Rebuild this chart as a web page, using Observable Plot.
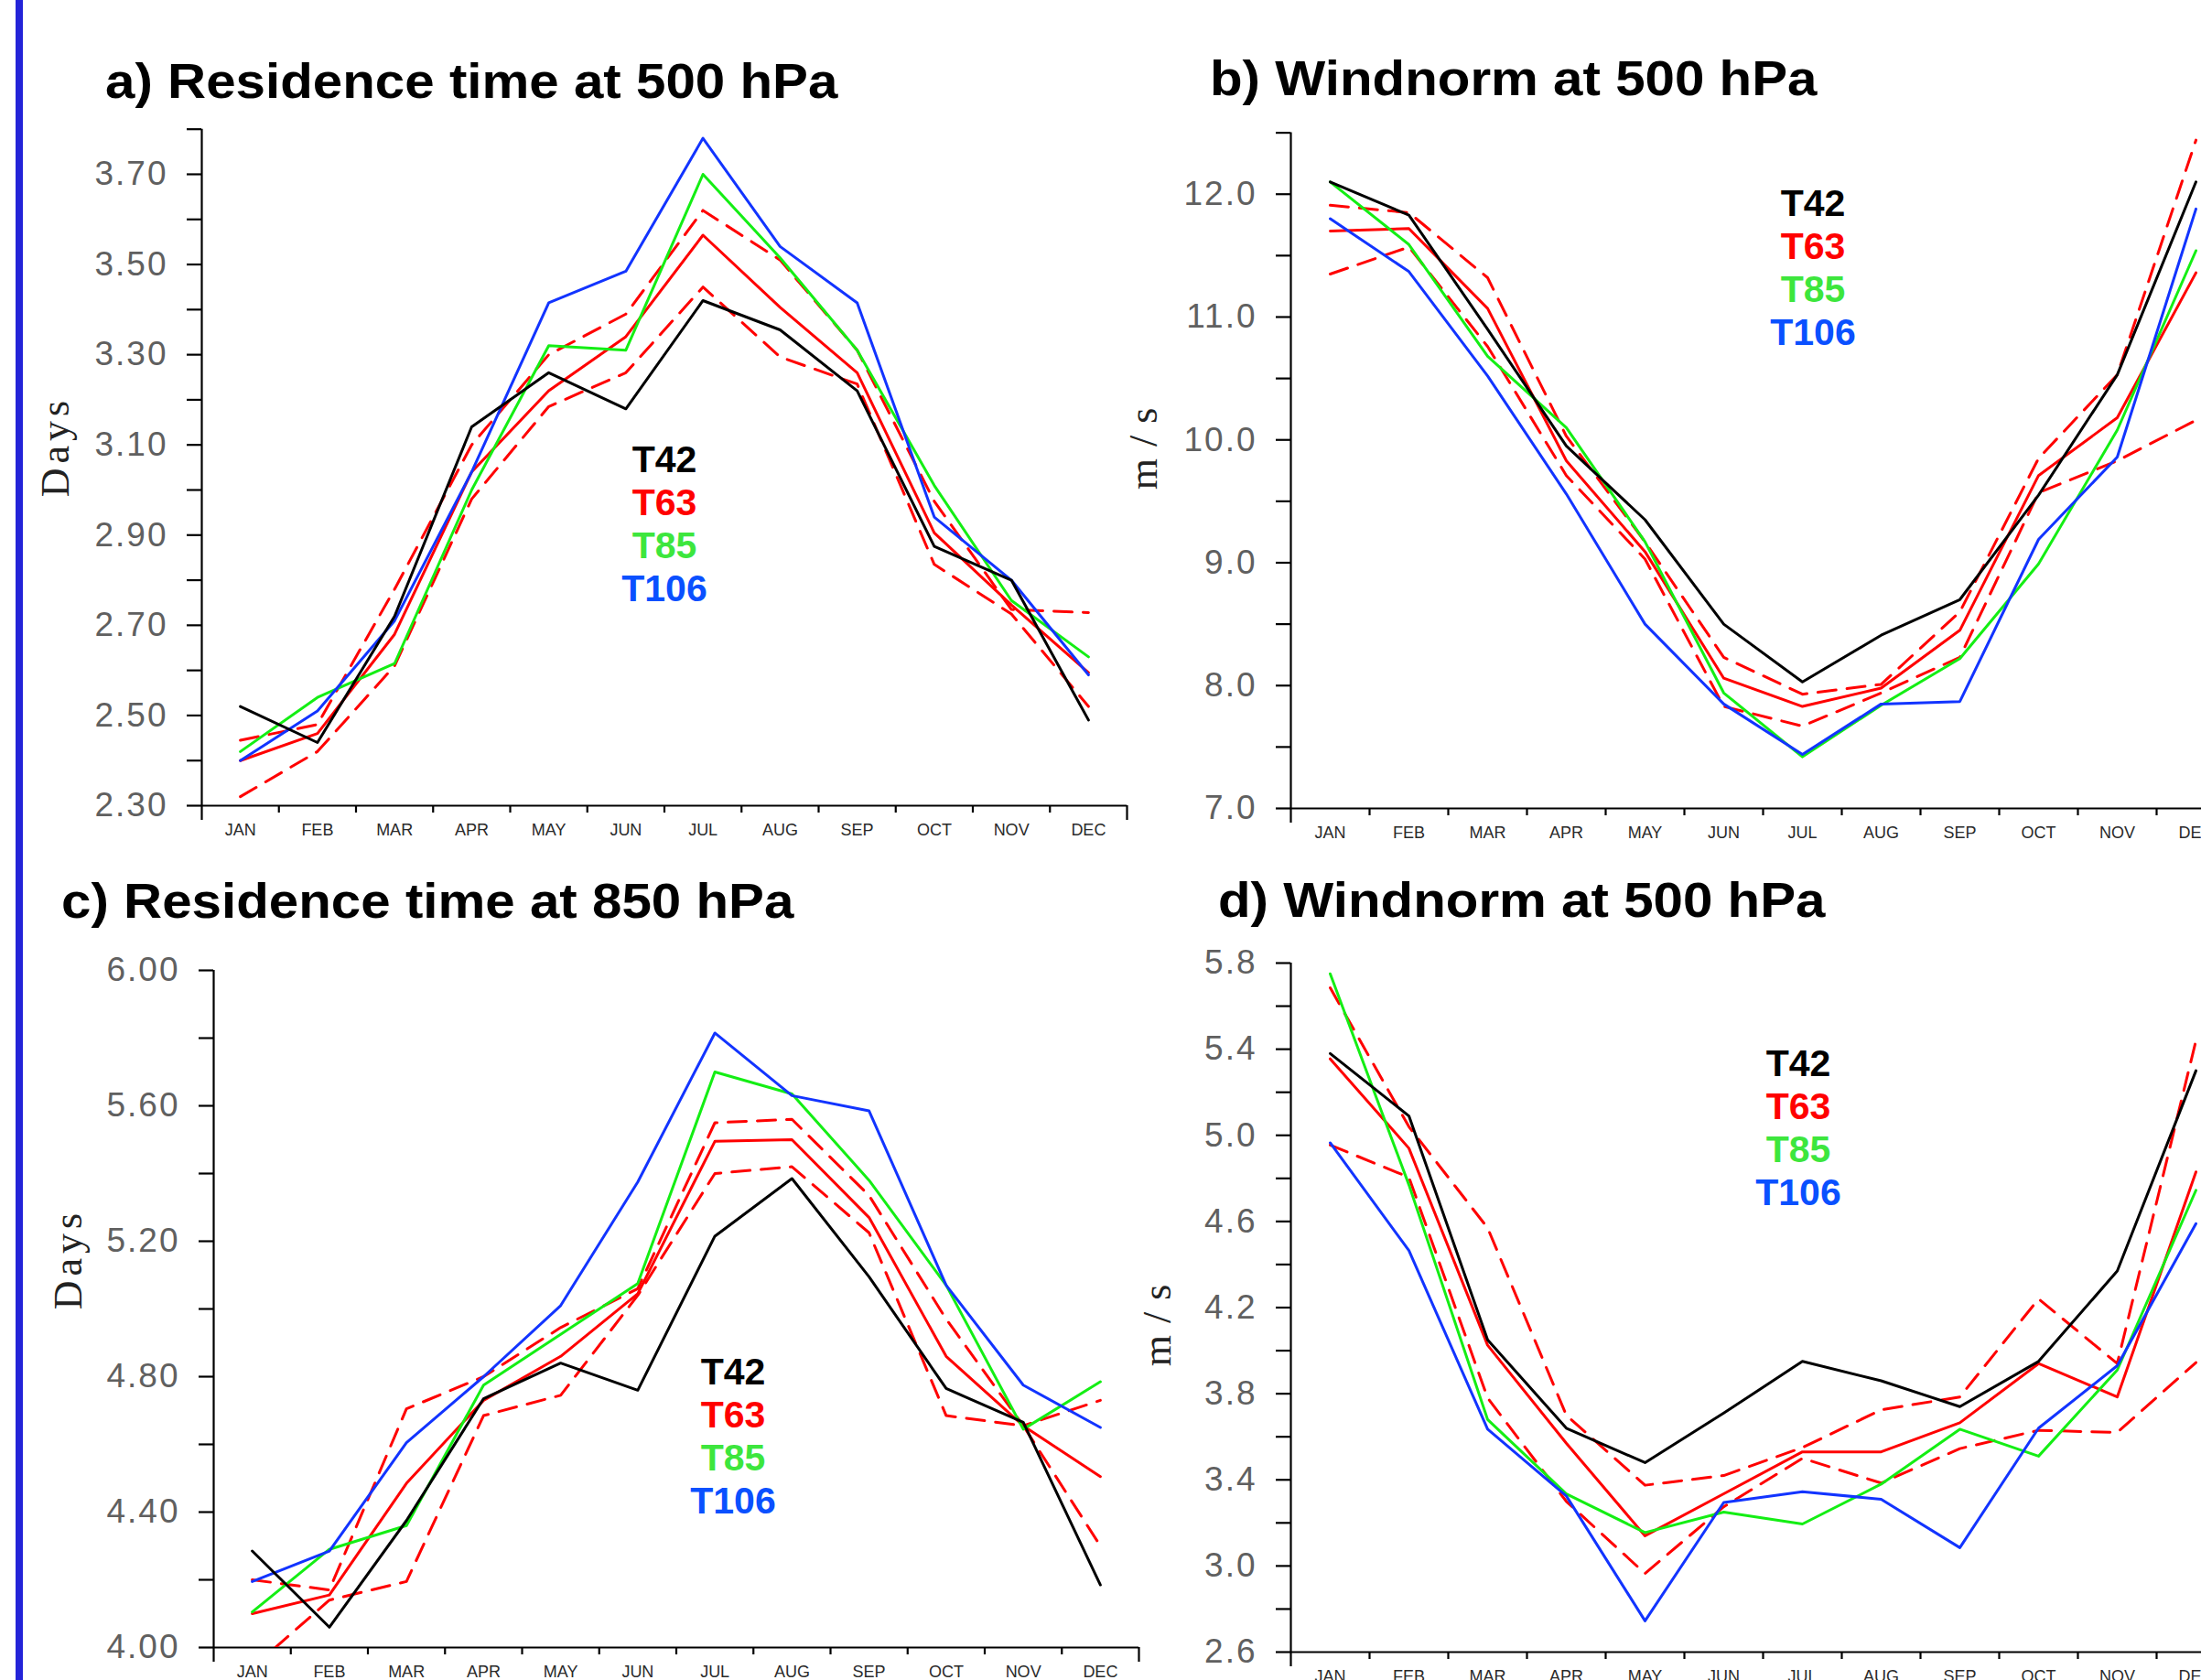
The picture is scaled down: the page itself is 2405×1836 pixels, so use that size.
<!DOCTYPE html>
<html><head><meta charset="utf-8">
<script src="https://cdn.jsdelivr.net/npm/d3@7"></script>
<script src="https://cdn.jsdelivr.net/npm/@observablehq/plot@0.6"></script>
<style>
html,body{margin:0;padding:0;background:#fff;}
body{width:2405px;height:1836px;overflow:hidden;position:relative;}
.abs{position:absolute;}
.title{font-family:"Liberation Sans",Arial,sans-serif;font-weight:bold;font-size:53px;line-height:53px;color:#000;white-space:nowrap;transform-origin:0 0;transform:scaleX(1.1);}
.leg{font-family:"Liberation Sans",Arial,sans-serif;font-weight:bold;font-size:41px;line-height:47px;text-align:center;width:200px;}
.ylab{font-family:"Liberation Serif","DejaVu Serif",serif;font-size:44px;line-height:44px;color:#222;white-space:nowrap;transform:translate(-50%,-50%) rotate(-90deg);}
.bar{left:17px;top:0;width:8px;height:1836px;background:#2424d8;}
g[aria-label="y-axis tick label"]{letter-spacing:2px;}
</style></head><body>
<div class="abs bar"></div>
<script>
const months = ["JAN","FEB","MAR","APR","MAY","JUN","JUL","AUG","SEP","OCT","NOV","DEC"];

// a) Residence time at 500 hPa (Days)
const a_T42   = [2.52, 2.44, 2.72, 3.14, 3.26, 3.18, 3.42, 3.355, 3.22, 2.875, 2.80, 2.49];
const a_T63   = [2.40, 2.46, 2.68, 3.04, 3.22, 3.34, 3.565, 3.405, 3.26, 2.905, 2.745, 2.595];
const a_T85   = [2.42, 2.54, 2.615, 3.00, 3.32, 3.31, 3.70, 3.515, 3.31, 3.01, 2.755, 2.63];
const a_T106  = [2.40, 2.51, 2.71, 3.04, 3.415, 3.485, 3.78, 3.54, 3.415, 2.94, 2.80, 2.59];
const a_T63hi = [2.445, 2.48, 2.78, 3.10, 3.30, 3.39, 3.62, 3.51, 3.31, 2.975, 2.735, 2.728];
const a_T63lo = [2.32, 2.42, 2.61, 2.98, 3.185, 3.26, 3.45, 3.295, 3.235, 2.835, 2.725, 2.52];
const a_ticks = [2.3,2.4,2.5,2.6,2.7,2.8,2.9,3.0,3.1,3.2,3.3,3.4,3.5,3.6,3.7,3.8];
const a_labels = [2.3,2.5,2.7,2.9,3.1,3.3,3.5,3.7];

// b) Windnorm at 500 hPa (m/s)
const b_T42   = [12.10, 11.83, 10.90, 9.95, 9.35, 8.50, 8.03, 8.41, 8.70, 9.55, 10.53, 12.10];
const b_T63   = [11.70, 11.72, 11.07, 9.83, 9.09, 8.06, 7.83, 7.98, 8.45, 9.71, 10.18, 11.36];
const b_T85   = [12.10, 11.59, 10.68, 10.10, 9.17, 7.94, 7.42, 7.84, 8.22, 8.99, 10.08, 11.54];
const b_T106  = [11.80, 11.37, 10.52, 9.56, 8.50, 7.85, 7.44, 7.85, 7.87, 9.19, 9.86, 11.88];
const b_T63hi = [11.91, 11.85, 11.32, 10.03, 9.17, 8.23, 7.93, 8.01, 8.60, 9.85, 10.53, 12.44];
const b_T63lo = [11.35, 11.57, 10.76, 9.71, 9.03, 7.83, 7.67, 7.94, 8.23, 9.57, 9.83, 10.16];
const b_ticks = [7,7.5,8,8.5,9,9.5,10,10.5,11,11.5,12,12.5];
const b_labels = [7,8,9,10,11,12];

// c) Residence time at 850 hPa (Days)
const c_T42   = [4.285, 4.06, 4.375, 4.735, 4.84, 4.76, 5.215, 5.385, 5.095, 4.765, 4.665, 4.185];
const c_T63   = [4.10, 4.155, 4.485, 4.73, 4.86, 5.045, 5.495, 5.50, 5.27, 4.86, 4.655, 4.505];
const c_T85   = [4.105, 4.29, 4.36, 4.775, 4.925, 5.075, 5.70, 5.635, 5.38, 5.07, 4.645, 4.785];
const c_T106  = [4.195, 4.285, 4.605, 4.80, 5.01, 5.375, 5.815, 5.63, 5.585, 5.07, 4.775, 4.65];
const c_T63hi = [4.20, 4.17, 4.705, 4.80, 4.945, 5.06, 5.55, 5.56, 5.335, 4.97, 4.655, 4.73];
const c_T63lo = [3.94, 4.14, 4.195, 4.685, 4.745, 5.04, 5.40, 5.42, 5.225, 4.685, 4.655, 4.30];
const c_ticks = [4.0,4.2,4.4,4.6,4.8,5.0,5.2,5.4,5.6,5.8,6.0];
const c_labels = [4.0,4.4,4.8,5.2,5.6,6.0];

// d) Windnorm at 500 hPa (m/s), second set
const d_T42   = [5.38, 5.09, 4.05, 3.64, 3.48, 3.71, 3.95, 3.86, 3.74, 3.95, 4.37, 5.30];
const d_T63   = [5.355, 4.94, 4.025, 3.57, 3.14, 3.335, 3.53, 3.53, 3.665, 3.94, 3.785, 4.83];
const d_T85   = [5.75, 4.77, 3.68, 3.335, 3.155, 3.25, 3.195, 3.38, 3.635, 3.51, 3.91, 4.745];
const d_T106  = [4.965, 4.465, 3.635, 3.325, 2.745, 3.295, 3.345, 3.31, 3.085, 3.64, 3.93, 4.59];
const d_T63hi = [5.685, 5.04, 4.57, 3.70, 3.375, 3.42, 3.55, 3.725, 3.785, 4.24, 3.94, 5.44];
const d_T63lo = [4.955, 4.805, 3.78, 3.30, 2.965, 3.275, 3.50, 3.385, 3.545, 3.63, 3.62, 3.945];
const d_ticks = [2.6,2.8,3.0,3.2,3.4,3.6,3.8,4.0,4.2,4.4,4.6,4.8,5.0,5.2,5.4,5.6,5.8];
const d_labels = [2.6,3.0,3.4,3.8,4.2,4.6,5.0,5.4,5.8];

const seriesNames = ["T42","T63","T85","T106"];
const lineColors = {T42:"#000000", T63:"#ff0000", T85:"#14ee14", T106:"#1234ff"};
const legendColors = {T42:"#000000", T63:"#ff0000", T85:"#3de63d", T106:"#0a50ff"};

function makePanel(cfg) {
  const xi = (d, i) => i + 0.5;
  const tickFont = "'Liberation Sans', Arial, sans-serif";
  const marks = [
    Plot.axisY({ticks: cfg.ticks, tickSize: 16, tickFormat: () => "", stroke: "#000", strokeWidth: 2.2, label: null}),
    Plot.axisY({ticks: cfg.labels, tickSize: 0, tickPadding: 37, tickFormat: d3.format(cfg.fmt), fill: "#606060", fontSize: 37, fontFamily: tickFont, label: null}),
    Plot.axisX({ticks: d3.range(1, 12), tickSize: 8, tickFormat: () => "", stroke: "#000", strokeWidth: 2.2, label: null}),
    Plot.axisX({ticks: [0, 12], tickSize: 16, tickFormat: () => "", stroke: "#000", strokeWidth: 2.2, label: null}),
    Plot.axisX({ticks: d3.range(12).map(i => i + 0.5), tickSize: 0, tickPadding: 20, tickFormat: d => months[Math.floor(d)], fill: "#2a2a2a", fontSize: 18, fontFamily: tickFont, label: null}),
    Plot.ruleY([cfg.yDomain[0]], {stroke: "#000", strokeWidth: 2.2}),
    Plot.ruleX([0], {stroke: "#000", strokeWidth: 2.2}),
    Plot.line(cfg.hi, {x: xi, y: d => d, stroke: lineColors.T63, strokeWidth: 3, strokeDasharray: "20,12", clip: true}),
    Plot.line(cfg.lo, {x: xi, y: d => d, stroke: lineColors.T63, strokeWidth: 3, strokeDasharray: "20,12", clip: true}),
    Plot.line(cfg.T63, {x: xi, y: d => d, stroke: lineColors.T63, strokeWidth: 3, clip: true}),
    Plot.line(cfg.T85, {x: xi, y: d => d, stroke: lineColors.T85, strokeWidth: 3, clip: true}),
    Plot.line(cfg.T106, {x: xi, y: d => d, stroke: lineColors.T106, strokeWidth: 3, clip: true}),
    Plot.line(cfg.T42, {x: xi, y: d => d, stroke: lineColors.T42, strokeWidth: 3, clip: true})
  ];
  const svg = Plot.plot({
    width: cfg.w, height: cfg.h,
    marginLeft: cfg.ml, marginRight: cfg.mr, marginTop: cfg.mt, marginBottom: cfg.mb,
    x: {type: "linear", domain: [0, 12]},
    y: {type: "linear", domain: cfg.yDomain},
    style: {background: "transparent", overflow: "visible"},
    marks
  });
  svg.style.position = "absolute";
  svg.style.left = cfg.left + "px";
  svg.style.top = cfg.top + "px";
  document.body.appendChild(svg);

  const t = document.createElement("div");
  t.className = "abs title";
  t.style.left = cfg.titleX + "px"; t.style.top = cfg.titleY + "px";
  t.textContent = cfg.title;
  document.body.appendChild(t);

  const yl = document.createElement("div");
  yl.className = "abs ylab";
  yl.style.left = cfg.ylabX + "px"; yl.style.top = cfg.ylabY + "px";
  yl.style.letterSpacing = cfg.ylabLS + "px";
  yl.textContent = cfg.ylab;
  document.body.appendChild(yl);

  const lg = document.createElement("div");
  lg.className = "abs leg";
  lg.style.left = (cfg.legX - 100) + "px"; lg.style.top = cfg.legY + "px";
  seriesNames.forEach(n => {
    const s = document.createElement("div");
    s.style.color = legendColors[n];
    s.textContent = n;
    lg.appendChild(s);
  });
  document.body.appendChild(lg);
}

makePanel({title: "a) Residence time at 500 hPa", titleX: 115, titleY: 62,
  ylab: "Days", ylabX: 61, ylabY: 488, ylabLS: 5,
  legX: 726, legY: 479,
  T42: a_T42, T63: a_T63, T85: a_T85, T106: a_T106, hi: a_T63hi, lo: a_T63lo,
  ticks: a_ticks, labels: a_labels, fmt: ".2f", yDomain: [2.3, 3.8],
  left: 0, top: 120, w: 1245, h: 820, ml: 220, mr: 14, mt: 20.7, mb: 60});

makePanel({title: "b) Windnorm at 500 hPa", titleX: 1322, titleY: 59,
  ylab: "m / s", ylabX: 1250, ylabY: 490, ylabLS: 1,
  legX: 1981, legY: 199,
  T42: b_T42, T63: b_T63, T85: b_T85, T106: b_T106, hi: b_T63hi, lo: b_T63lo,
  ticks: b_ticks, labels: b_labels, fmt: ".1f", yDomain: [7, 12.5],
  left: 1240, top: 120, w: 1210, h: 820, ml: 170, mr: 8, mt: 24.6, mb: 57});

makePanel({title: "c) Residence time at 850 hPa", titleX: 67, titleY: 958,
  ylab: "Days", ylabX: 75, ylabY: 1376, ylabLS: 5,
  legX: 801, legY: 1476,
  T42: c_T42, T63: c_T63, T85: c_T85, T106: c_T106, hi: c_T63hi, lo: c_T63lo,
  ticks: c_ticks, labels: c_labels, fmt: ".2f", yDomain: [4, 6],
  left: 0, top: 1030, w: 1260, h: 806, ml: 233, mr: 16, mt: 30, mb: 36});

makePanel({title: "d) Windnorm at 500 hPa", titleX: 1331, titleY: 957,
  ylab: "m / s", ylabX: 1265, ylabY: 1448, ylabLS: 1,
  legX: 1965, legY: 1139,
  T42: d_T42, T63: d_T63, T85: d_T85, T106: d_T106, hi: d_T63hi, lo: d_T63lo,
  ticks: d_ticks, labels: d_labels, fmt: ".1f", yDomain: [2.6, 5.8],
  left: 1240, top: 1030, w: 1210, h: 806, ml: 170, mr: 8, mt: 22, mb: 31});
</script>
</body></html>
